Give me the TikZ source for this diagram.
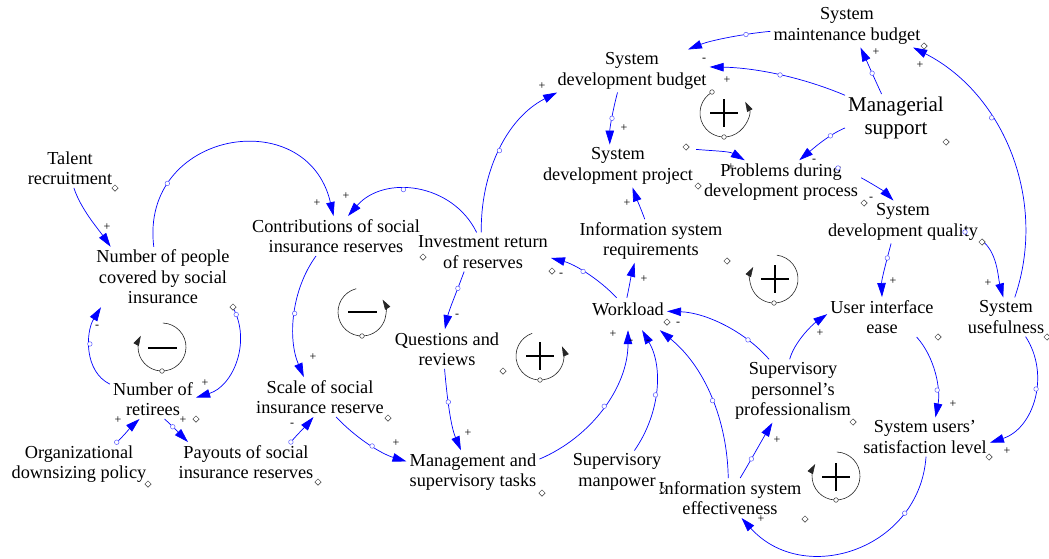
\documentclass[tikz,border=0pt]{standalone}
\usepackage{fontspec}
\setmainfont{Liberation Serif}
\usetikzlibrary{arrows.meta,shapes.geometric}
\newcommand\varfont{\fontsize{18.3}{20.5}\selectfont}
\newcommand\bigvarfont{\fontsize{21}{22.5}\selectfont}
\newcommand\signfont{\fontsize{12}{12}\selectfont}
\begin{document}
\begin{tikzpicture}[x=1pt,y=1pt,
  var/.style={font=\varfont, align=center, inner sep=3pt, text=black},
  link/.style={draw=blue, line width=0.7pt, -{Triangle[length=14pt,width=8.5pt]}},
  hdl/.style={circle, draw=blue!65, fill=white, inner sep=0pt, minimum size=4.6pt, line width=0.5pt},
  lhdl/.style={circle, draw=black!80, fill=white, inner sep=0pt, minimum size=4.6pt, line width=0.5pt},
  dia/.style={diamond, draw=black!80, fill=white, inner sep=0pt, minimum size=6.5pt, line width=0.5pt},
  sgn/.style={font=\signfont, inner sep=0pt, text=black},
  looparc/.style={draw=black!85, line width=0.6pt, -{Triangle[length=10pt,width=6pt]}},
  loopsign/.style={draw=black, line width=2.4pt}]

\useasboundingbox (0,0) rectangle (1049,-558);
\fill[white] (0,0) rectangle (1049,-558);

% ---------------- variables ----------------
\node[var] (tal) at (70,-168) {Talent\\recruitment};
\node[var] (npc) at (163,-277) {Number of people\\covered by social\\insurance};
\node[var] (con) at (336,-236) {Contributions of social\\insurance reserves};
\node[var] (inv) at (483,-252) {Investment return\\of reserves};
\node[var] (que) at (447,-349) {Questions and\\reviews};
\node[var] (ret) at (153,-399) {Number of\\retirees};
\node[var] (org) at (79,-464) {Organizational\\downsizing policy};
\node[var] (pay) at (246,-462) {Payouts of social\\insurance reserves};
\node[var] (sca) at (320,-397) {Scale of social\\insurance reserve};
\node[var] (man) at (473,-472) {Management and\\supervisory tasks};
\node[var] (sdb) at (632,-71) {System\\development budget};
\node[var] (sdp) at (618,-166) {System\\development project};
\node[var] (prb) at (781,-182) {Problems during\\development process};
\node[var] (smb) at (847,-26) {System\\maintenance budget};
\node[var,font=\bigvarfont] (mgr) at (896,-118) {Managerial\\support};
\node[var] (sdq) at (903,-222) {System\\development quality};
\node[var] (uie) at (882,-317) {User interface\\ease};
\node[var] (use) at (1006,-317) {System\\usefulness};
\node[var] (isr) at (651,-241) {Information system\\requirements};
\node[var, text height=14pt, text depth=12pt] (wl) at (628,-314) {Workload};
\node[var] (spp) at (793,-391) {Supervisory\\personnel’s\\professionalism};
\node[var] (smp) at (617,-472) {Supervisory\\manpower};
\node[var] (ise) at (730,-498) {Information system\\effectiveness};
\node[var] (sus) at (925,-437) {System users’\\satisfaction level};

% ---------------- causal links ----------------
\draw[link] (tal.-79) .. controls +(-72:22) and +(125:22) .. (npc.150);
\draw[link] (npc.107) .. controls +(97:117) and +(103:117) .. node[hdl,pos=0.22] (h2) {} (con.97);
\draw[link] (inv.108) .. controls +(116:55) and +(49:55) .. node[hdl,pos=0.59] (h3) {} (con.59);
\draw[link] (inv.95) .. controls +(91:58) and +(207:58) .. node[hdl,pos=0.5] (h4) {} (sdb.196);
\draw[link] (inv.-134) .. controls +(-110:19) and +(78:19) .. node[hdl,pos=0.3] (h5) {} (que.96);
\draw[link] (con.-135) .. controls +(234:42) and +(113:42) .. node[hdl,pos=0.49] (h6) {} (sca.129);
\draw[link] (ret.161) .. controls +(154:29) and +(238:29) .. node[hdl,pos=0.57] (h7) {} (npc.-154);
\draw[link] (npc.south east) .. controls +(-61:39) and +(17:39) .. node[hdl,pos=0.07] (h8) {} (ret.2);
\draw[link] (org.30) .. controls +(42:9) and +(222:9) .. node[hdl,pos=0] (h9) {} (ret.-124);
\draw[link] (ret.-60) .. controls +(-42:10) and +(135:10) .. node[hdl,pos=0.35] (h10) {} (pay.161);
\draw[link] (pay.24) .. controls +(50:9) and +(230:9) .. node[hdl,pos=0] (h11) {} (sca.-108);
\draw[link] (sca.-51) .. controls +(-47:27.5) and +(163:27.5) .. node[hdl,pos=0.55] (h12) {} (man.171);
\draw[link] (que.-97) .. controls +(-85:27) and +(113:27) .. node[hdl,pos=0.4] (h13) {} (man.119);
\draw[link] (man.11) .. controls +(23:56.6) and +(-90:56.6) .. node[hdl,pos=0.51] (h14) {} (wl.-90);
\draw[link] (smp.51) .. controls +(55:43.7) and +(-60:43.7) .. node[hdl,pos=0.47] (h15) {} (wl.-49);
\draw[link] (ise.95) .. controls +(91:58) and +(-39:58) .. node[hdl,pos=0.47] (h16) {} (wl.-27);
\draw[link] (spp.127) .. controls +(131:38) and +(-2:38) .. node[hdl,pos=0.25] (h17) {} (wl.4);
\draw[link] (spp.96) .. controls +(75:18) and +(215:18) .. (uie.177);
\draw[link] (ise.63) .. controls +(59:20) and +(239:20) .. node[hdl,pos=0.35] (h19) {} (spp.-123);
\draw[link] (sus.-87) .. controls +(-94:93) and +(-48:93) .. node[hdl,pos=0.24] (h20) {} (ise.-60);
\draw[link] (uie.-30) .. controls +(-48:28) and +(79:28) .. node[hdl,pos=0.68] (h21) {} (sus.62);
\draw[link] (use.-45) .. controls +(-57:46) and +(18:46) .. node[hdl,pos=0.42] (h22) {} (sus.-5);
\draw[link] (use.66) .. controls +(71:102) and +(-27:102) .. node[hdl,pos=0.64] (h23) {} (smb.-18);
\draw[link] (mgr.121) .. controls +(115:15) and +(-65:15) .. node[hdl,pos=0.45] (h24) {} (smb.-58);
\draw[link] (smb.-176) .. controls +(185:25) and +(22:25) .. node[hdl,pos=0.3] (h25) {} (sdb.21);
\draw[link] (mgr.156) .. controls +(157:46) and +(-1:46) .. node[hdl,pos=0.49] (h26) {} (sdb.3);
\draw[link] (mgr.-169) .. controls +(203:18) and +(40:18) .. node[hdl,pos=0.3] (h27) {} (prb.50);
\draw[link] (sdp.12) .. controls +(-5:18) and +(150:18) .. (prb.149);
\draw[link] (prb.3) .. controls +(-28:12) and +(135:12) .. (sdq.114);
\draw[link] (sdb.-124) .. controls +(-105:17) and +(90:17) .. node[hdl,pos=0.5] (h30) {} (sdp.111);
\draw[link] (isr.106) .. controls +(110:11) and +(-70:11) .. (sdp.-56);
\draw[link] (wl.94) .. controls +(78:12) and +(-105:12) .. (isr.-127);
\draw[link] (wl.125) .. controls +(133:25) and +(-15:25) .. node[hdl,pos=0.55] (h33) {} (inv.-5);
\draw[link] (sdq.-119) .. controls +(-105:17) and +(92:17) .. node[hdl,pos=0.28] (h34) {} (uie.90);
\draw[link] (sdq.-13) .. controls +(-35:20) and +(105:20) .. (use.98);

% loose arrow handles
\node[hdl] (hx1) at (838,-168) {};
\node[hdl] (hx2) at (965,-232) {};

% ---------------- polarity signs ----------------
\node[sgn] (s1) at (107,-227) {+};
\node[sgn] (s2) at (317,-203) {+};
\node[sgn] (s3) at (346,-196) {+};
\node[sgn] (s4) at (542,-86) {+};
\node[sgn] (s5) at (457,-316) {-};
\node[sgn] (s6) at (313,-357) {+};
\node[sgn] (s7) at (97,-327) {-};
\node[sgn] (s8) at (205,-383) {+};
\node[sgn] (s9) at (118,-420) {+};
\node[sgn] (s10) at (183,-420) {+};
\node[sgn] (s11) at (292,-425) {-};
\node[sgn] (s12) at (396,-443) {+};
\node[sgn] (s13) at (468,-433) {+};
\node[sgn] (s14) at (613,-334) {+};
\node[sgn] (s15) at (631,-342) {-};
\node[sgn] (s16) at (648,-342) {-};
\node[sgn] (s17) at (678,-324) {-};
\node[sgn] (s18) at (820,-333) {+};
\node[sgn] (s19) at (777,-440) {+};
\node[sgn] (s20) at (761,-519) {+};
\node[sgn] (s21) at (953,-404) {+};
\node[sgn] (s22) at (1007,-451) {+};
\node[sgn] (s23) at (920,-65) {+};
\node[sgn] (s24) at (876,-52) {+};
\node[sgn] (s25) at (704,-60) {-};
\node[sgn] (s26) at (727,-80) {+};
\node[sgn] (s27) at (814,-161) {-};
\node[sgn] (s28) at (731,-167) {+};
\node[sgn] (s29) at (871,-199) {-};
\node[sgn] (s30) at (624,-128) {+};
\node[sgn] (s31) at (627,-203) {+};
\node[sgn] (s32) at (644,-279) {+};
\node[sgn] (s33) at (561,-275) {-};
\node[sgn] (s34) at (893,-281) {+};
\node[sgn] (s35) at (988,-283) {+};

% ---------------- variable handles ----------------
\foreach \px/\py [count=\i] in {115/188, 233/307, 196/419, 148/484, 318/482, 388/418,
    542/493, 503/371, 423/257, 552/271, 667/322, 727/261, 686/147, 698/186, 864/203,
    946/142, 924/46, 982/242, 938/337, 1047/337, 853/422, 989/457, 805/519, 663/490}
  \node[dia] (d\i) at (\px,-\py) {};

% ---------------- loop identifiers ----------------
% balancing loop, left
\draw[looparc] (162,-347) ++(88:24pt) arc[start angle=88, end angle=-208, radius=24pt];
\draw[loopsign] (148,-348) -- (177,-348);
\node[lhdl] (l1) at (162,-371) {};
% balancing loop, centre left
\draw[looparc] (362,-312) ++(104:24pt) arc[start angle=104, end angle=391, radius=24pt];
\draw[loopsign] (348,-312) -- (377,-312);
\node[lhdl] (l2) at (362,-336) {};
% reinforcing loop near the reviews
\draw[looparc] (540,-356) ++(109:24pt) arc[start angle=109, end angle=384, radius=24pt];
\draw[loopsign] (526,-356) -- (554,-356) (540,-342) -- (540,-370);
\node[lhdl] (l3) at (540,-380) {};
% reinforcing loop under the development budget
\draw[looparc] (724,-113) ++(120:24pt) arc[start angle=120, end angle=388, radius=24pt];
\draw[loopsign] (710,-113) -- (738,-113) (724,-99) -- (724,-127);
\node[lhdl] (l4) at (724,-137) {};
\node[lhdl] (l4b) at (712,-92) {};
% reinforcing loop, middle right
\draw[looparc] (774,-279) ++(83:24pt) arc[start angle=83, end angle=-210, radius=24pt];
\draw[loopsign] (761,-279) -- (789,-279) (775,-265) -- (775,-293);
\node[lhdl] (l5) at (774,-303) {};
% reinforcing loop, bottom right
\draw[looparc] (836,-476) ++(88:24pt) arc[start angle=88, end angle=-210, radius=24pt];
\draw[loopsign] (822,-477) -- (850,-477) (836,-463) -- (836,-491);
\node[lhdl] (l6) at (836,-500) {};
\end{tikzpicture}
\end{document}
